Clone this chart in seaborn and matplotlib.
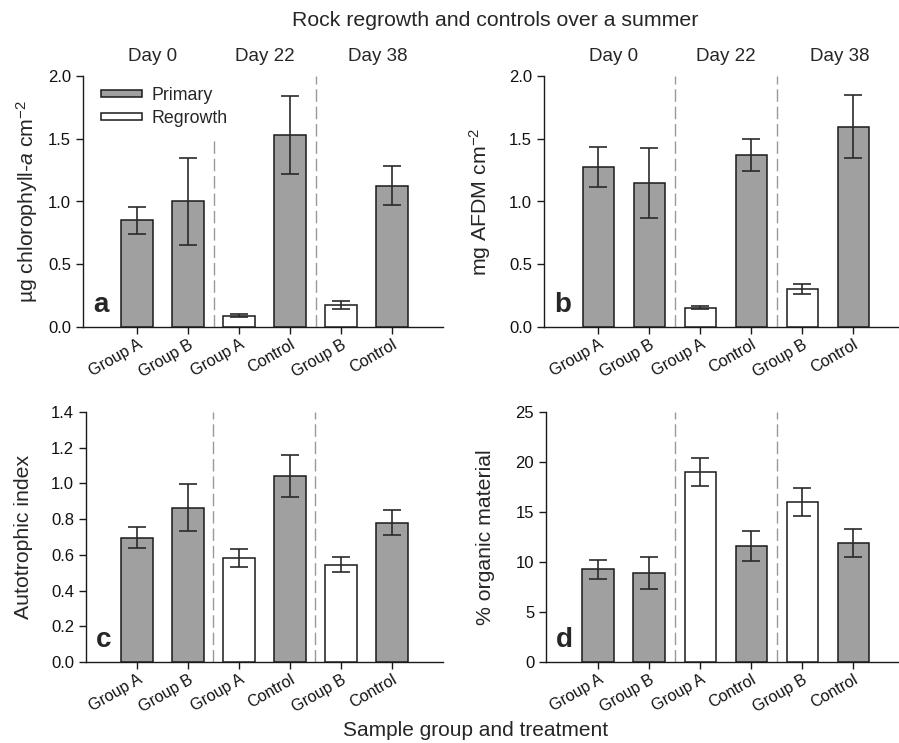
import numpy as np
import pandas as pd
import matplotlib
matplotlib.use("Agg")
import matplotlib.pyplot as plt
import matplotlib.transforms as mtransforms
import seaborn as sns

# ---------------- data ----------------
days = ["Day 0", "Day 0", "Day 22", "Day 22", "Day 38", "Day 38"]
groups = ["Group A", "Group B", "Group A", "Control", "Group B", "Control"]
treatment = ["Primary", "Primary", "Regrowth", "Primary", "Regrowth", "Primary"]

chl_mean = [0.85, 1.00, 0.09, 1.53, 0.175, 1.125]
chl_se = [0.11, 0.35, 0.01, 0.31, 0.035, 0.155]

afdm_mean = [1.275, 1.145, 0.155, 1.368, 0.303, 1.597]
afdm_se = [0.16, 0.28, 0.01, 0.128, 0.043, 0.25]

ai_mean = [0.696, 0.864, 0.583, 1.041, 0.546, 0.780]
ai_se = [0.058, 0.132, 0.052, 0.119, 0.041, 0.071]

om_mean = [9.3, 8.95, 19.05, 11.6, 16.05, 11.9]
om_se = [0.95, 1.6, 1.4, 1.5, 1.4, 1.43]

day_labels = ["Day 0", "Day 22", "Day 38"]
panel_letters = ["a", "b", "c", "d"]
ylabels = [r"µg chlorophyll-$\mathit{a}$ cm$^{-2}$", r"mg AFDM cm$^{-2}$",
           "Autotrophic index", "% organic material"]

# ---------------- style ----------------
sns.set_style("ticks")
plt.rcParams["font.family"] = ["Liberation Sans", "DejaVu Sans"]
plt.rcParams["mathtext.fontset"] = "custom"
plt.rcParams["mathtext.rm"] = "Liberation Sans"
plt.rcParams["mathtext.it"] = "Liberation Sans:italic"
plt.rcParams["mathtext.bf"] = "Liberation Sans:bold"

GRAY = "#a0a0a0"
DARK = "#1a1a1a"
palette = {"Primary": GRAY, "Regrowth": "white"}

W, H = 899, 743
fig = plt.figure(figsize=(W / 100, H / 100), dpi=100)

def px_axes(left, right, top, bottom):
    return fig.add_axes([left / W, 1 - bottom / H, (right - left) / W, (bottom - top) / H])

axes = [
    px_axes(83, 443, 76, 327),
    px_axes(544, 898, 76, 327),
    px_axes(86, 443, 412, 662),
    px_axes(546, 898, 412, 662),
]
xlims = [(-1.06, 6.0), (-1.06, 5.88), (-1.0, 6.0), (-1.02, 5.88)]
ylims = [(0, 2.0), (0, 2.0), (0, 1.4), (0, 25)]
yticks = [np.arange(0, 2.01, 0.5), np.arange(0, 2.01, 0.5), np.arange(0, 1.41, 0.2), np.arange(0, 26, 5)]
yfmt = ["{:.1f}", "{:.1f}", "{:.1f}", "{:.0f}"]
label_x = [-0.12, -0.144, -0.148, -0.145]
means = [chl_mean, afdm_mean, ai_mean, om_mean]
ses = [chl_se, afdm_se, ai_se, om_se]

keys = [f"{d} {g}" for d, g in zip(days, groups)]

for i, ax in enumerate(axes):
    df = pd.DataFrame({"key": keys, "value": means[i], "treatment": treatment})
    sns.barplot(data=df, x="key", y="value", hue="treatment",
                hue_order=["Primary", "Regrowth"], palette=palette,
                dodge=False, width=0.61, errorbar=None,
                edgecolor=DARK, linewidth=1.1, ax=ax, legend=(i == 0), zorder=3)
    xpos = np.arange(len(keys))
    ax.errorbar(xpos, means[i], yerr=ses[i], fmt="none", ecolor="#2a2a2a",
                elinewidth=1.2, capsize=6.5, capthick=1.2, zorder=4)

    # separators
    for j, xs in enumerate([1.5, 3.5]):
        ymax = 1.0
        if i == 0 and j == 0:
            ymax = 1.5 / 2.0
        ax.axvline(xs, ymin=0, ymax=ymax, color="#999999", lw=1.0,
                   dashes=(9, 3.5), zorder=1)

    ax.set_xlim(*xlims[i])
    ax.set_ylim(*ylims[i])
    ax.set_yticks(yticks[i])
    ax.set_yticklabels([yfmt[i].format(v) for v in yticks[i]], fontsize=12)
    ax.set_xticks(xpos)
    ax.set_xticklabels(groups, rotation=30, ha="right", va="top",
                       rotation_mode="anchor", fontsize=11.5)
    offset = mtransforms.ScaledTranslation(6 / 100, -3 / 100, fig.dpi_scale_trans)
    for lab in ax.get_xticklabels():
        lab.set_transform(lab.get_transform() + offset)
    ax.set_xlabel("")
    ax.set_ylabel(ylabels[i], fontsize=15.3)
    ax.yaxis.set_label_coords(label_x[i], 0.5)

    for s in ["top", "right"]:
        ax.spines[s].set_visible(False)
    for s in ["left", "bottom"]:
        ax.spines[s].set_color(DARK)
        ax.spines[s].set_linewidth(1.0)
    ax.tick_params(axis="both", direction="out", length=5, width=1.0,
                   color=DARK, labelcolor="#111111")
    ax.tick_params(axis="x", pad=2)

    ax.text(0.028, 0.036, panel_letters[i], transform=ax.transAxes,
            fontsize=20, fontweight="bold", ha="left", va="bottom", zorder=5)

    if i < 2:
        for dl, dx in zip(day_labels, [0.3, 2.5, 4.73]):
            ax.text(dx, 1.076, dl, transform=ax.get_xaxis_transform(),
                    ha="center", va="center", fontsize=13.5)

# legend on panel a
handles, labels = axes[0].get_legend_handles_labels()
axes[0].legend(handles, labels, loc="upper left", bbox_to_anchor=(0.05, 0.955),
               frameon=False, fontsize=12.8, handlelength=2.3, handleheight=0.25,
               handletextpad=0.55, labelspacing=0.3, borderpad=0, borderaxespad=0)

fig.text(495 / W, 1 - 21 / H, "Rock regrowth and controls over a summer",
         ha="center", va="center", fontsize=15.3)
fig.text(476 / W, 1 - 731 / H, "Sample group and treatment",
         ha="center", va="center", fontsize=15)

fig.savefig("out.png", dpi=100)
